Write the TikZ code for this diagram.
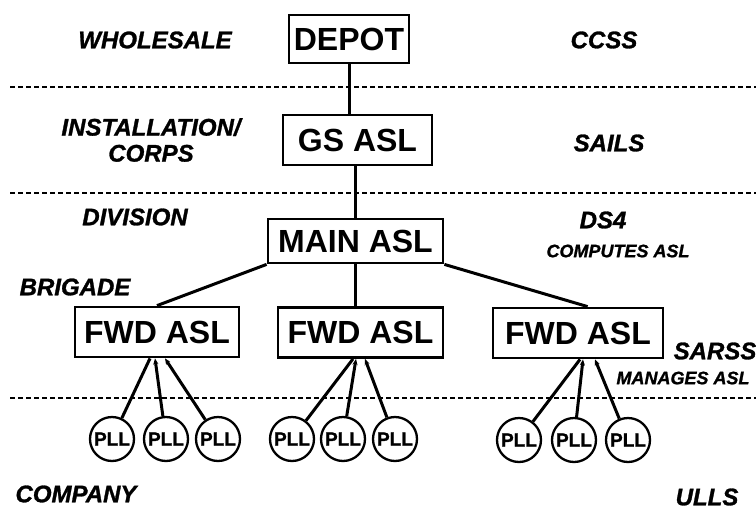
\documentclass[tikz,border=0pt]{standalone}
\usepackage{fontspec}
\setmainfont{Liberation Sans}
\newfontfamily\heavyfont[FakeBold=1.2]{Liberation Sans}
\usetikzlibrary{arrows.meta}

\begin{document}
\begin{tikzpicture}[x=1pt, y=-1pt,
    level/.style={font=\heavyfont\fontsize{24}{26}\selectfont\bfseries\itshape, inner sep=0pt},
    note/.style={font=\heavyfont\fontsize{18}{20}\selectfont\bfseries\itshape, inner sep=0pt},
    stock/.style={draw, line width=2.8pt, inner sep=0pt, font=\fontsize{32}{34}\selectfont\bfseries},
    pll/.style={draw, circle, line width=2.3pt, minimum size=44, inner sep=0pt, font=\heavyfont\fontsize{19}{20}\selectfont\bfseries},
    link/.style={line width=3pt},
    feed/.style={line width=3pt, -{Stealth[length=6pt,width=5pt]}},
    tier/.style={line width=2.2pt, dash pattern=on 4.5pt off 3.5pt}
  ]
    \useasboundingbox (0,0) rectangle (756,512);

    % Tier separators
    \foreach \y in {87, 193, 398} {
        \draw[tier] (10,\y) -- (756,\y);
    }

    % Stock levels
    \node[stock, minimum width=120, minimum height=48] (depot) at (349,39) {DEPOT};
    \node[stock, minimum width=149, minimum height=50] (gsasl) at (357.5,140) {GS ASL};
    \node[stock, minimum width=175, minimum height=44] (main) at (355.5,241) {MAIN ASL};
    \node[stock, minimum width=164, minimum height=50] (fwdl) at (157,332) {FWD ASL};
    \node[stock, minimum width=165, minimum height=50] (fwdm) at (360.5,332.5) {FWD ASL};
    \node[stock, minimum width=170, minimum height=50] (fwdr) at (578,333) {FWD ASL};

    % Company PLLs
    \foreach \n/\x/\y in {1/112/439, 2/166/439, 3/218/439,
                          4/292/439, 5/343/439, 6/395/439,
                          7/519/440, 8/574/440, 9/628/440} {
        \node[pll] (p\n) at (\x,\y) {PLL};
    }

    % Supply chain
    \draw[link] (depot.south) -- (depot.south |- gsasl.north);
    \draw[link] (main.north) -- (main.north |- gsasl.south);
    \draw[link] (main.south west) -- (fwdl.north);
    \draw[link] (main.south) -- (main.south |- fwdm.north);
    \draw[link] (main.south east) -- (fwdr.70);

    \draw[link] (p1) -- ([xshift=-7pt]fwdl.south);
    \draw[feed] (p2) -- ([xshift=-2pt]fwdl.south);
    \draw[feed] (p3) -- ([xshift=8pt]fwdl.south);
    \draw[link] (p4) -- ([xshift=-7.5pt]fwdm.south);
    \draw[feed] (p5) -- ([xshift=-4.5pt]fwdm.south);
    \draw[feed] (p6) -- ([xshift=4.5pt]fwdm.south);
    \draw[link] (p7) -- ([xshift=2pt]fwdr.south);
    \draw[feed] (p8) -- ([xshift=5pt]fwdr.south);
    \draw[feed] (p9) -- ([xshift=17pt]fwdr.south);

    % Echelons (left)
    \node[level] (wholesale) at (155,40) {WHOLESALE};
    \node[level, align=center] (corps) at (151,140) {INSTALLATION/\\CORPS};
    \node[level] (division) at (135,217) {DIVISION};
    \node[level] (brigade) at (75,287) {BRIGADE};
    \node[level] (company) at (76,494) {COMPANY};

    % Systems (right)
    \node[level] (ccss) at (604,40) {CCSS};
    \node[level] (sails) at (609,143) {SAILS};
    \node[level] (ds4) at (603,220) {DS4};
    \node[note] (computes) at (618,251) {COMPUTES ASL};
    \node[level] (sarss) at (715,351) {SARSS};
    \node[note] (manages) at (683,378) {MANAGES ASL};
    \node[level] (ulls) at (707,497) {ULLS};
\end{tikzpicture}
\end{document}
